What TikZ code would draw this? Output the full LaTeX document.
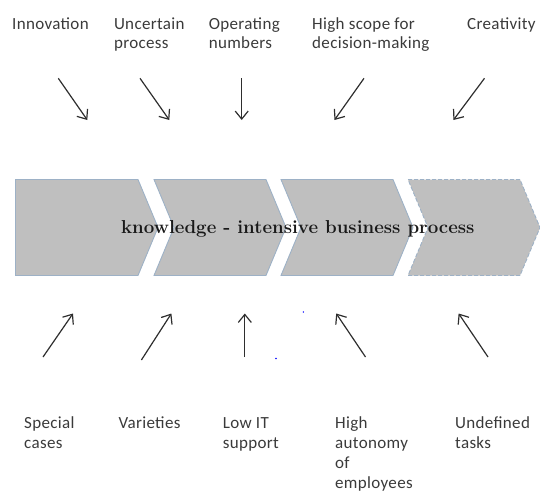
\documentclass[tikz,border=0pt]{standalone}
\usepackage{fontspec}
\newfontfamily\labelfont[LetterSpace=2]{Carlito}
\usetikzlibrary{arrows.meta}
\definecolor{chevfill}{HTML}{BFBFBF}
\definecolor{chevedge}{HTML}{9DB1C6}
\definecolor{labelgray}{HTML}{3A3A3A}
\definecolor{arrowgray}{HTML}{2E2E2E}

\begin{document}
\begin{tikzpicture}[x=1pt,y=-1pt,
  chevron/.style={fill=chevfill, draw=chevedge, line width=0.9pt, line join=miter},
  % multi-line labels: the base anchor sits on the last line
  factortop/.style={font=\labelfont\fontsize{17}{18.5}\selectfont, text=labelgray,
    align=left, anchor=base west, inner sep=0pt},
  factorbottom/.style={font=\labelfont\fontsize{17}{20}\selectfont, text=labelgray,
    align=left, anchor=base west, inner sep=0pt},
  influence/.style={draw=arrowgray, line width=1.2pt,
    -{Straight Barb[length=8pt,width=13pt,line width=1.2pt]}},
  processtitle/.style={font=\bfseries\fontsize{18.7}{22}\selectfont, text=black!90, anchor=base, inner sep=0pt},
  speck/.style={circle, fill=blue, inner sep=0pt, minimum size=1.6pt}
]
\useasboundingbox (0,0) rectangle (540,495);

% process chevrons
\draw[chevron] (15.5,179.5) -- (138,179.5) -- (158,227.5) -- (138,275.5) -- (15.5,275.5) -- cycle;
\draw[chevron] (154,179.5) -- (266,179.5) -- (286,227.5) -- (266,275.5) -- (154,275.5) -- (174,227.5) -- cycle;
\draw[chevron] (281,179.5) -- (393,179.5) -- (413,227.5) -- (393,275.5) -- (281,275.5) -- (301,227.5) -- cycle;
\draw[chevron, dashed, dash pattern=on 4pt off 2pt] (408,179.5) -- (520,179.5) -- (540,227.5) -- (520,275.5) -- (408,275.5) -- (428,227.5) -- cycle;

\node[processtitle] (kip) at (297.8,233) {knowledge - intensive business process};

% factors above the process
\node[factortop] (innov) at (12,30) {Innovation};
\node[factortop] (uncert) at (113.8,48.5) {Uncertain\\process};
\node[factortop] (opnum) at (208.6,48.5) {Operating\\numbers};
\node[factortop] (scope) at (312,48.5) {High scope for\\decision-making};
\node[factortop] (creat) at (467,30) {Creativity};

% factors below the process
\node[factorbottom] (special) at (24,448.5) {Special\\cases};
\node[factorbottom] (variet) at (118.3,428) {Varieties};
\node[factorbottom] (lowit) at (222.7,448.5) {Low IT\\support};
\node[factorbottom] (autonomy) at (335,488.5) {High\\autonomy\\of\\employees};
\node[factorbottom] (undef) at (455,448.5) {Undefined\\tasks};

% arrow end points
\coordinate (t1s) at (58.3,78.3);  \coordinate (t1e) at (87.3,120);
\coordinate (t2s) at (140,78.3);   \coordinate (t2e) at (169.3,120);
\coordinate (t3s) at (241.7,78.3); \coordinate (t3e) at (241.7,120);
\coordinate (t4s) at (364,78.3);   \coordinate (t4e) at (334.5,120);
\coordinate (t5s) at (484.5,78.3); \coordinate (t5e) at (453.4,120);

\coordinate (b1s) at (43,357);     \coordinate (b1e) at (73,313.5);
\coordinate (b2s) at (141.4,360);  \coordinate (b2e) at (171.4,313.5);
\coordinate (b3s) at (244.8,357);  \coordinate (b3e) at (244.8,313.5);
\coordinate (b4s) at (365.5,357);  \coordinate (b4e) at (336.2,313.5);
\coordinate (b5s) at (488,357);    \coordinate (b5e) at (458.6,313.5);

\foreach \k in {t1,t2,t3,t4,t5,b1,b2,b3,b4,b5}
  \draw[influence] (\k s) -- (\k e);

% stray marks
\node[speck] (speckA) at (303.4,312) {};
\node[speck] (speckB) at (276,358.5) {};
\end{tikzpicture}
\end{document}
